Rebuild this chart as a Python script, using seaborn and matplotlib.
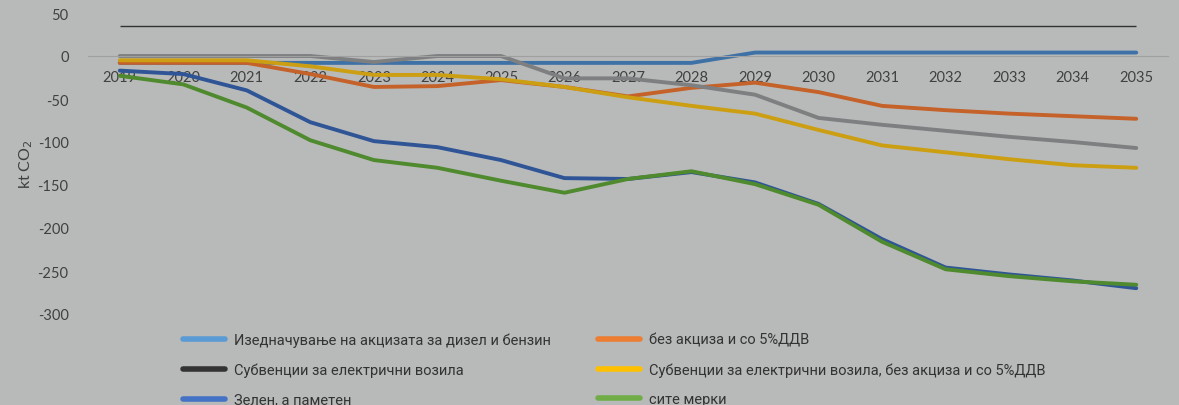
import seaborn as sns
import matplotlib.pyplot as plt
import pandas as pd
from matplotlib.lines import Line2D

# podatoci (procena od slikata)
years = list(range(2019, 2036))
izednacuvanje = [-8, -8, -8, -8, -8, -8, -8, -8, -8, -8, 4, 4, 4, 4, 4, 4, 4]
bez_akciza = [-8, -8, -8, -21, -36, -35, -28, -36, -47, -37, -31, -42, -58, -63, -67, -70, -73]
subvencii = [0, 0, 0, 0, -7, 0, 0, -26, -26, -34, -45, -72, -80, -87, -94, -100, -107]
subvencii_bez = [-5, -5, -5, -12, -22, -22, -27, -36, -48, -58, -67, -86, -104, -112, -120, -127, -130]
zelen = [-17, -21, -40, -77, -99, -106, -121, -142, -143, -135, -147, -172, -213, -246, -254, -261, -270]
site = [-23, -33, -60, -98, -121, -130, -145, -159, -143, -134, -149, -173, -216, -248, -256, -262, -266]
top_line = 35

names = ["Изедначување на акцизата за дизел и бензин",
         "без акциза и со 5%ДДВ",
         "Субвенции за електрични возила",
         "Субвенции за електрични возила, без акциза и со 5%ДДВ",
         "Зелен, а паметен",
         "сите мерки"]
series = [izednacuvanje, bez_akciza, subvencii, subvencii_bez, zelen, site]
line_colors = ["#3e71a6", "#c4622a", "#7d7f80", "#cc9e12", "#2f5596", "#4f8a2e"]
legend_colors = ["#5b9bd5", "#ed7d31", "#333333", "#ffc000", "#4472c4", "#70ad47"]

df = pd.concat([pd.DataFrame({"year": years, "value": v, "series": n})
                for n, v in zip(names, series)])

plt.rcParams["axes.unicode_minus"] = False

bg = "#b8baba"
fig = plt.figure(figsize=(11.79, 4.06), dpi=100, facecolor=bg)
ax = fig.add_axes([88 / 1179, 91 / 406, 1080 / 1179, 301 / 406], facecolor=bg)

sns.lineplot(data=df, x="year", y="value", hue="series", hue_order=names,
             palette=dict(zip(names, line_colors)), linewidth=2.8,
             legend=False, ax=ax)
for l in ax.lines:
    l.set_solid_capstyle("round")

ax.hlines(top_line, years[0], years[-1], color="#333333", lw=1.0)

ax.set_xlim(2018.5, 2035.5)
ax.set_ylim(-300, 50)
ax.set_yticks(range(-300, 51, 50))
ax.set_xticks(years)
ax.set_xlabel("")
ax.set_ylabel("kt CO$_2$", fontsize=11.5, color="#404040", family="Lato", labelpad=2)

for s in ["top", "right", "left"]:
    ax.spines[s].set_visible(False)
ax.spines["bottom"].set_position(("data", 0))
ax.spines["bottom"].set_color("#a0a0a0")
ax.spines["bottom"].set_linewidth(0.8)
ax.tick_params(axis="both", length=0, labelsize=10.5, labelcolor="#404040")
ax.tick_params(axis="x", pad=10)
ax.tick_params(axis="y", pad=14)
for t in ax.get_xticklabels() + ax.get_yticklabels():
    t.set_family("Lato")

handles = [Line2D([0], [0], color=c, lw=4, solid_capstyle="round") for c in legend_colors]
leg_font = {"family": ["Roboto", "DejaVu Sans"], "size": 10.5}
for col, x0 in [(0, 183), (1, 598)]:
    idx = [col, col + 2, col + 4]
    fig.legend([handles[i] for i in idx], [names[i] for i in idx],
               loc="upper left", bbox_to_anchor=(x0 / 1179, 1 - 334 / 406),
               frameon=False, borderpad=0, borderaxespad=0, handlelength=2.9,
               handletextpad=0.6, labelspacing=1.05, prop=leg_font,
               labelcolor="#333333")

plt.savefig("out.png", dpi=100, facecolor=bg)
